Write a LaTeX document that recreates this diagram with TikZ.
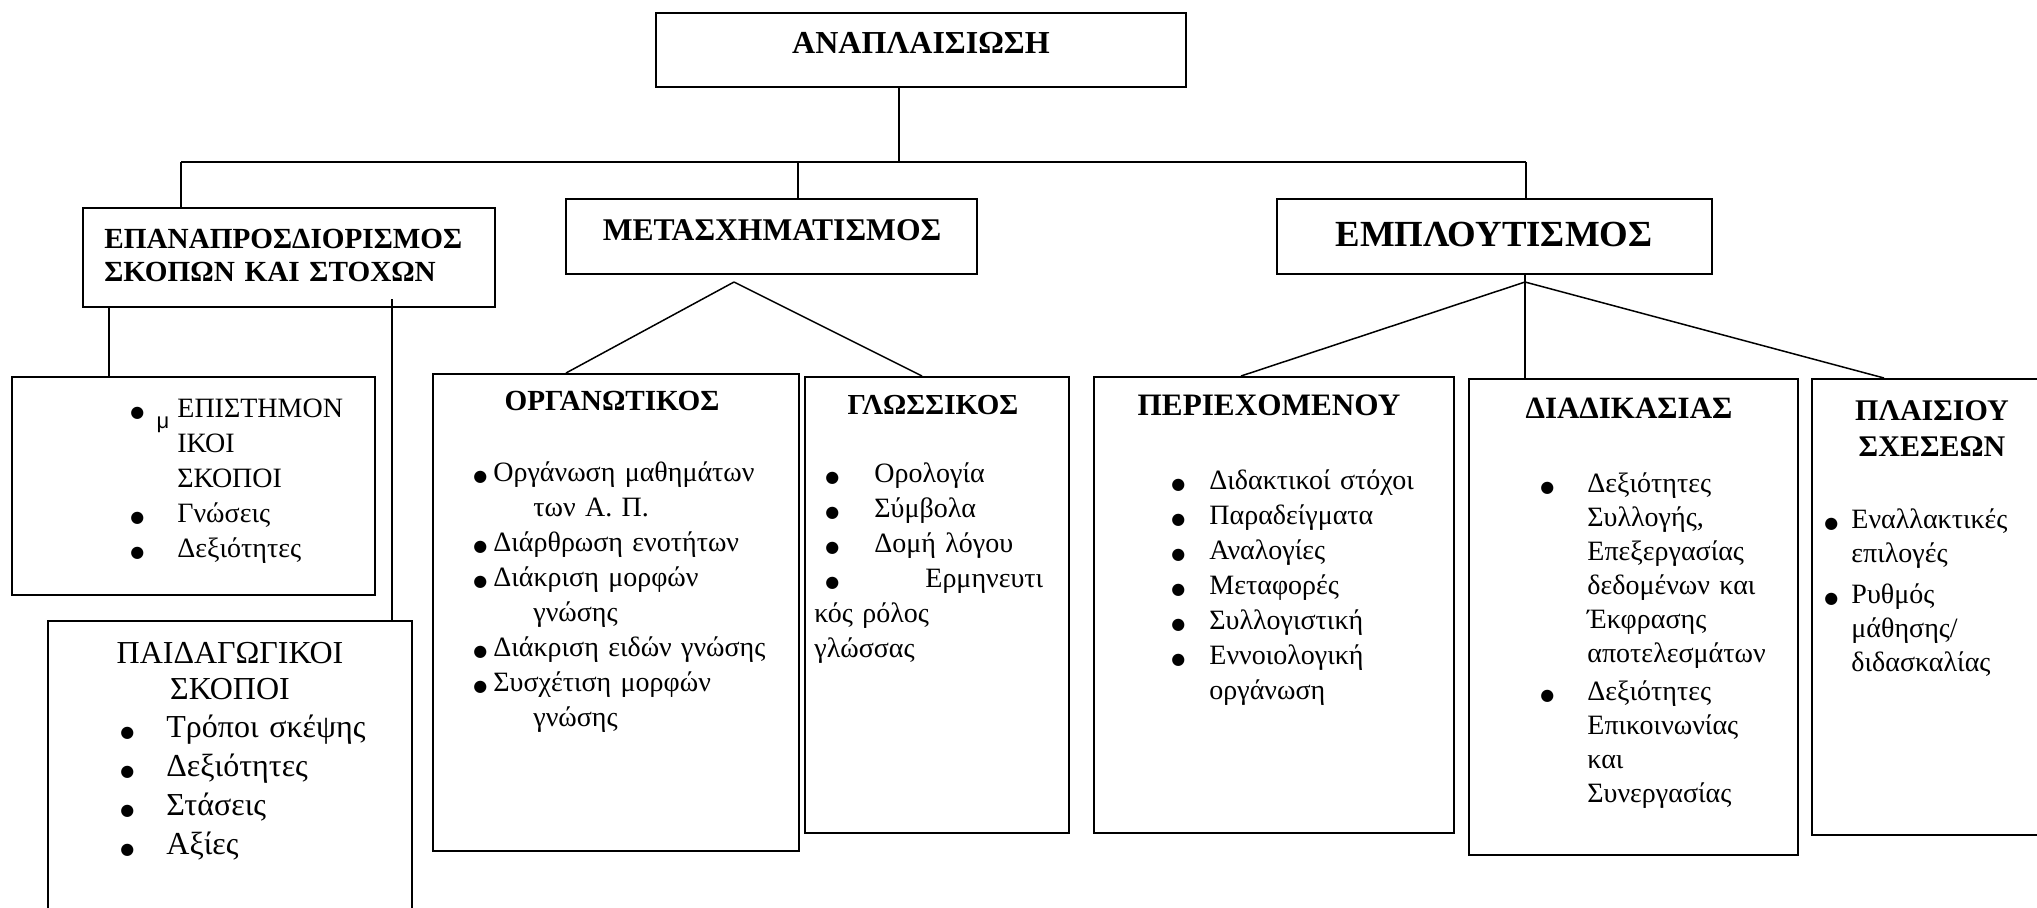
\documentclass[tikz,border=0pt]{standalone}
\usepackage{fontspec}
\setmainfont{Liberation Serif}
\newfontfamily\sansf{Liberation Sans}
\newfontfamily\dejavu{DejaVu Sans}
\usetikzlibrary{fit}
\newcommand\mybul[1]{\makebox[#1][l]{{\dejavu\fontsize{8}{8}\selectfont ●}}}
\begin{document}
\begin{tikzpicture}[x=0.5pt,y=-0.5pt,
  box/.style={draw,line width=1pt,inner sep=0pt},
  conn/.style={line width=0.75pt},
  hd/.style={inner sep=0pt,font=\bfseries\fontsize{#1}{#1}\selectfont},
  lst/.style={inner sep=0pt,anchor=base west,align=left,text width=#1},
  bodyf/.style={font=\fontsize{14}{17.5}\selectfont}]
\useasboundingbox (0,0) rectangle (2037,907);
\clip (0,0) rectangle (2037,907);
% ---------- boxes ----------
\node[box,fit={(656,13) (1186,87)}] (top) {};
\node[box,fit={(83,208) (495,307)}] (b1) {};
\node[box,fit={(12,377) (375,595)}] (b1a) {};
\node[box,fit={(48,621) (412,930)}] (b1b) {};
\node[box,fit={(566,199) (977,274)}] (b2) {};
\node[box,fit={(433,374) (799,851)}] (b2a) {};
\node[box,fit={(805,377) (1069,833)}] (b2b) {};
\node[box,fit={(1277,199) (1712,274)}] (b3) {};
\node[box,fit={(1094,377) (1454,833)}] (b3a) {};
\node[box,fit={(1469,379) (1798,855)}] (b3b) {};
\node[box,fit={(1812,379) (2060,835)}] (b3c) {};
% ---------- connectors ----------
\coordinate (j0) at (899,162);
\coordinate (bL) at (181,162);
\coordinate (bM) at (798,162);
\coordinate (bR) at (1526,162);
\draw[conn] (top.south -| j0) -- (j0);
\draw[conn] (bL) -- (bR);
\draw[conn] (bL) -- (b1.north -| bL);
\draw[conn] (bM) -- (b2.north -| bM);
\draw[conn] (bR) -- (b3.north -| bR);
\coordinate (l1) at (109,307);
\draw[conn] (l1) -- (b1a.north -| l1);
\coordinate (r1) at (392,299);
\draw[conn] (r1) -- (b1b.north -| r1);
\coordinate (a2) at (734,282);
\coordinate (a2l) at (566,0);
\coordinate (a2r) at (922,0);
\draw[conn] (a2) -- (b2a.north -| a2l);
\draw[conn] (a2) -- (b2b.north -| a2r);
\coordinate (a3) at (1525,282);
\coordinate (a3l) at (1241,0);
\coordinate (a3r) at (1884,0);
\draw[conn] (b3.south -| a3) -- (b3b.north -| a3);
\draw[conn] (a3) -- (b3a.north -| a3l);
\draw[conn] (a3) -- (b3c.north -| a3r);
% ---------- headers ----------
\node[hd=16] (tt) at (921,43) {ΑΝΑΠΛΑΙΣΙΩΣΗ};
\node[lst=220pt,font=\bfseries\fontsize{14.6}{16.5}\selectfont] (t1) at (104,248) {ΕΠΑΝΑΠΡΟΣΔΙΟΡΙΣΜΟΣ\\ΣΚΟΠΩΝ ΚΑΙ ΣΤΟΧΩΝ};
\node[hd=15.8] (t2) at (772,230) {ΜΕΤΑΣΧΗΜΑΤΙΣΜΟΣ};
\node[hd=18.4] (t3) at (1494,234) {ΕΜΠΛΟΥΤΙΣΜΟΣ};
\node[hd=14.6] (t2a) at (612,401) {ΟΡΓΑΝΩΤΙΚΟΣ};
\node[hd=14.5] (t2b) at (933,405) {ΓΛΩΣΣΙΚΟΣ};
\node[hd=15.6] (t3a) at (1269,405) {ΠΕΡΙΕΧΟΜΕΝΟΥ};
\node[hd=15.5] (t3b) at (1629,408) {ΔΙΑΔΙΚΑΣΙΑΣ};
\node[inner sep=0pt,anchor=base,align=center,text width=110pt,font=\bfseries\fontsize{15}{18}\selectfont] (t3c) at (1932,420) {ΠΛΑΙΣΙΟΥ\\ΣΧΕΣΕΩΝ};
% ---------- lists ----------
\node[lst=170pt,bodyf] (l1a) at (130,417) {%
\mybul{23.5pt}ΕΠΙΣΤΗΜΟΝ\\
\hspace*{23.5pt}ΙΚΟΙ\\
\hspace*{23.5pt}ΣΚΟΠΟΙ\\
\mybul{23.5pt}Γνώσεις\\
\mybul{23.5pt}Δεξιότητες};
\node[inner sep=0pt,font=\sansf\fontsize{11}{11}\selectfont] (mu) at (163,425) {μ};
\node[inner sep=0pt,anchor=base,align=center,text width=160pt,font=\fontsize{16}{18}\selectfont] (p1) at (230,663) {ΠΑΙΔΑΓΩΓΙΚΟΙ\\ΣΚΟΠΟΙ};
\node[lst=170pt,font=\fontsize{16}{19.5}\selectfont] (l1b) at (120,737) {%
\mybul{23pt}Τρόποι σκέψης\\
\mybul{23pt}Δεξιότητες\\
\mybul{23pt}Στάσεις\\
\mybul{23pt}Αξίες};
\node[lst=175pt,bodyf] (l2a) at (473,481) {%
\mybul{10pt}Οργάνωση μαθημάτων\\
\hspace*{30pt}των Α. Π.\\
\mybul{10pt}Διάρθρωση ενοτήτων\\
\mybul{10pt}Διάκριση μορφών\\
\hspace*{30pt}γνώσης\\
\mybul{10pt}Διάκριση ειδών γνώσης\\
\mybul{10pt}Συσχέτιση μορφών\\
\hspace*{30pt}γνώσης};
\node[lst=125pt,bodyf] (l2b) at (814,482) {%
\hspace*{5.5pt}\mybul{24.5pt}Ορολογία\\
\hspace*{5.5pt}\mybul{24.5pt}Σύμβολα\\
\hspace*{5.5pt}\mybul{24.5pt}Δομή λόγου\\
\hspace*{5.5pt}\mybul{50pt}Ερμηνευτι\\
κός ρόλος\\
γλώσσας};
\node[lst=140pt,bodyf] (l3a) at (1171,489) {%
\mybul{19pt}Διδακτικοί στόχοι\\
\mybul{19pt}Παραδείγματα\\
\mybul{19pt}Αναλογίες\\
\mybul{19pt}Μεταφορές\\
\mybul{19pt}Συλλογιστική\\
\mybul{19pt}Εννοιολογική\\
\hspace*{19pt}οργάνωση};
\node[lst=130pt,font=\fontsize{14}{17}\selectfont] (l3b) at (1540,492) {%
\mybul{23.5pt}Δεξιότητες\\
\hspace*{23.5pt}Συλλογής,\\
\hspace*{23.5pt}Επεξεργασίας\\
\hspace*{23.5pt}δεδομένων και\\
\hspace*{23.5pt}Έκφρασης\\
\hspace*{23.5pt}αποτελεσμάτων\\[2pt]
\mybul{23.5pt}Δεξιότητες\\
\hspace*{23.5pt}Επικοινωνίας\\
\hspace*{23.5pt}και\\
\hspace*{23.5pt}Συνεργασίας};
\node[lst=110pt,font=\fontsize{14}{17}\selectfont] (l3c) at (1824,528) {%
\mybul{13.5pt}Εναλλακτικές\\
\hspace*{13.5pt}επιλογές\\[3.5pt]
\mybul{13.5pt}Ρυθμός\\
\hspace*{13.5pt}μάθησης/\\
\hspace*{13.5pt}διδασκαλίας};
\end{tikzpicture}
\end{document}
